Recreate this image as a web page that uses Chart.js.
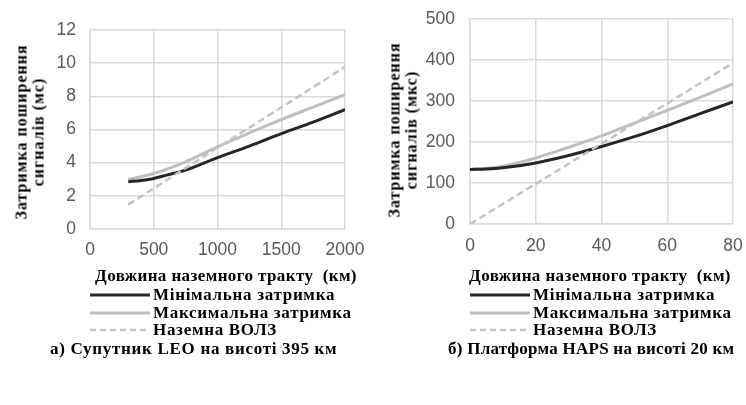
<!DOCTYPE html>
<html>
<head>
<meta charset="utf-8">
<script src="https://cdn.jsdelivr.net/npm/chart.js@4"></script>
<style>
  html, body { margin:0; padding:0; background:#fff; }
  body { width:746px; height:405px; position:relative; overflow:hidden; font-family:"Liberation Serif", serif; color:#000; }
  .cw { position:absolute; top:0; width:373px; height:290px; }
  .t { position:absolute; font-weight:bold; white-space:nowrap; font-size:17px; line-height:17px; }
  .ctr { transform: translate(-50%, -50%); text-align:center; }
  .xt { letter-spacing:0.4px; white-space:pre; }
  .yt { font-size:16px; line-height:16.5px; letter-spacing:1px; transform: translate(-50%, -50%) rotate(-90deg); text-align:center; }
  .row { position:absolute; height:18px; display:flex; align-items:center; font-weight:bold; font-size:17px; letter-spacing:0.7px; white-space:nowrap; }
  .row svg { margin-right:3px; }
  .cap { transform: translateY(-50%); }
</style>
</head>
<body>
<div class="cw" style="left:0"><canvas id="c1"></canvas></div>
<div class="cw" style="left:373px"><canvas id="c2"></canvas></div>
<div class="t ctr xt" id="xt1" style="left:226px; top:275px;"></div>
<div class="t ctr xt" id="xt2" style="left:600px; top:275px;"></div>
<div class="t yt" id="yt1" style="left:30px; top:132px;"></div>
<div class="t yt" id="yt2" style="left:403px; top:130px;"></div>
<div id="leg1"></div>
<div id="leg2"></div>
<div class="t cap" id="cap1" style="left:50px; top:348px; letter-spacing:0.7px;"></div>
<div class="t cap" id="cap2" style="left:448px; top:348px; letter-spacing:0.25px;"></div>
<script>
// ---- Data: (a) LEO satellite at 395 km ----
const leoX      = [300, 400, 500, 600, 750, 1000, 1250, 1500, 1750, 2000];
const leoMin    = [2.85, 2.93, 3.05, 3.25, 3.55, 4.3, 5.0, 5.75, 6.45, 7.2];
const leoMax    = [3.0, 3.15, 3.35, 3.6, 4.05, 4.95, 5.8, 6.6, 7.35, 8.1];
const leoFibX   = [300, 500, 1000, 1500, 2000];
const leoFib    = [1.47, 2.45, 4.9, 7.33, 9.78];
const leoXTicks = [0, 500, 1000, 1500, 2000];
const leoYTicks = [0, 2, 4, 6, 8, 10, 12];

// ---- Data: (b) HAPS platform at 20 km ----
const hapsX      = [0, 5, 10, 20, 30, 40, 50, 60, 70, 80];
const hapsMin    = [133, 134, 137, 149, 167, 189, 213, 240, 269, 298];
const hapsMax    = [133, 136, 141, 161, 187, 215, 246, 277, 309, 342];
const hapsFibX   = [0, 20, 40, 60, 80];
const hapsFib    = [0, 98, 196, 294, 393];
const hapsXTicks = [0, 20, 40, 60, 80];
const hapsYTicks = [0, 100, 200, 300, 400, 500];

// ---- Text ----
const seriesNames = ["Мінімальна затримка", "Максимальна затримка", "Наземна ВОЛЗ"];
const xTitle = "Довжина наземного тракту  (км)";
const yTitle1 = ["Затримка поширення", "сигналів (мс)"];
const yTitle2 = ["Затримка поширення", "сигналів (мкс)"];
const captions = ["а) Супутник LEO на висоті 395 км", "б) Платформа HAPS на висоті 20 км"];

const colMin = "#262626", colMax = "#bfbfbf", colFib = "#c3c3c3";
const grid = "#d9d9d9", tickCol = "#595959";

function pts(xs, ys){ return xs.map((x,i)=>({x:x, y:ys[i]})); }

function makeChart(id, xs, mn, mx, fx, fy, xt, yt, box){
  const xmin = xt[0], xmax = xt[xt.length-1], ymin = yt[0], ymax = yt[yt.length-1];
  const cv = document.getElementById(id); cv.width = 373; cv.height = 290;
  return new Chart(cv, {
    type: 'line',
    data: { datasets: [
      { label: seriesNames[2], data: pts(fx, fy), borderColor: colFib, borderWidth: 2.5, borderDash: [7,4], pointRadius: 0, tension: 0 },
      { label: seriesNames[0], data: pts(xs, mn), borderColor: colMin, borderWidth: 3, pointRadius: 0, cubicInterpolationMode: 'monotone' },
      { label: seriesNames[1], data: pts(xs, mx), borderColor: colMax, borderWidth: 3, pointRadius: 0, cubicInterpolationMode: 'monotone' }
    ]},
    options: {
      responsive: false, animation: false, devicePixelRatio: 1,
      layout: { padding: { left: 0, top: box.top, right: box.right, bottom: 0 } },
      plugins: { legend: { display: false }, tooltip: { enabled: false } },
      scales: {
        x: { type: 'linear', min: xmin, max: xmax,
             afterBuildTicks: s => { s.ticks = xt.map(v=>({value:v})); },
             afterFit: s => { s.height = box.xh; s.paddingLeft = 0; s.paddingRight = 0; },
             grid: { color: grid, lineWidth: 1.5, drawTicks: false },
             border: { color: grid, width: 1.5 },
             ticks: { color: tickCol, font: { family: "Liberation Sans", size: 17.5 }, padding: box.xpad, maxRotation: 0, callback: v => String(v) } },
        y: { type: 'linear', min: ymin, max: ymax,
             afterBuildTicks: s => { s.ticks = yt.map(v=>({value:v})); },
             afterFit: s => { s.width = box.yw; s.paddingTop = 0; s.paddingBottom = 0; },
             grid: { color: grid, lineWidth: 1.5, drawTicks: false },
             border: { color: grid, width: 1.5 },
             ticks: { color: tickCol, font: { family: "Liberation Sans", size: 17.5 }, padding: box.ypad, callback: v => String(v) } }
      }
    }
  });
}

makeChart('c1', leoX, leoMin, leoMax, leoFibX, leoFib, leoXTicks, leoYTicks, {top: 30, right: 28, yw: 90, xh: 61, xpad: 11, ypad: 14});
makeChart('c2', hapsX, hapsMin, hapsMax, hapsFibX, hapsFib, hapsXTicks, hapsYTicks, {top: 19, right: 13, yw: 97, xh: 66, xpad: 12, ypad: 15});

// ---- HTML titles ----
document.getElementById('xt1').textContent = xTitle;
document.getElementById('xt2').textContent = xTitle;
document.getElementById('yt1').innerHTML = yTitle1.join('<br>');
document.getElementById('yt2').innerHTML = yTitle2.join('<br>');

// ---- HTML legends ----
function buildLegend(el, left){
  const styles = [
    { c: colMin, w: 3, d: "" },
    { c: colMax, w: 3, d: "" },
    { c: colFib, w: 2.5, d: "6,4" }
  ];
  const centers = [295, 313, 330];
  styles.forEach((s,i)=>{
    const r = document.createElement('div');
    r.className = 'row'; r.style.top = (centers[i] - 9) + 'px'; r.style.left = left + 'px';
    r.innerHTML = '<svg width="60" height="6"><line x1="0" y1="3" x2="60" y2="3" stroke="'+s.c+'" stroke-width="'+s.w+'"'+(s.d?' stroke-dasharray="'+s.d+'"':'')+'/></svg><span>'+seriesNames[i]+'</span>';
    el.appendChild(r);
  });
}
buildLegend(document.getElementById('leg1'), 90);
buildLegend(document.getElementById('leg2'), 470);
document.getElementById('cap1').textContent = captions[0];
document.getElementById('cap2').textContent = captions[1];
</script>
</body>
</html>
